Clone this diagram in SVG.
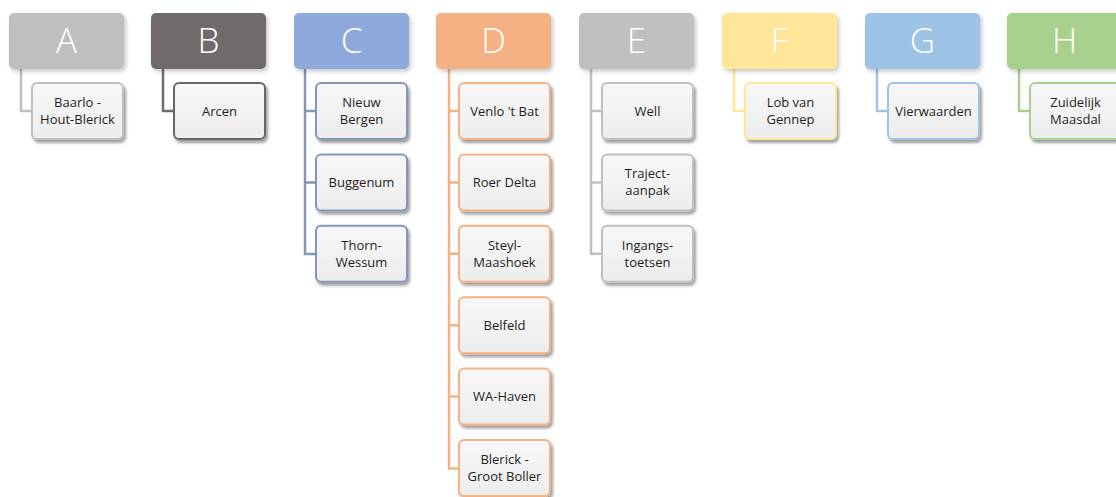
<svg xmlns="http://www.w3.org/2000/svg" width="1116" height="497" viewBox="0 0 1116 497">
<defs>
<filter id="sh" x="-20%" y="-20%" width="140%" height="150%">
<feDropShadow dx="2" dy="3" stdDeviation="1.6" flood-color="#000" flood-opacity="0.38"/>
</filter>
<filter id="hsh" x="-20%" y="-20%" width="140%" height="150%">
<feDropShadow dx="2" dy="2.5" stdDeviation="2" flood-color="#000" flood-opacity="0.22"/>
</filter>
<linearGradient id="cg" x1="0" y1="0" x2="0" y2="1">
<stop offset="0" stop-color="#f7f7f7"/>
<stop offset="1" stop-color="#ededed"/>
</linearGradient>
</defs>
<style>
.hd{filter:url(#hsh)}
.ch{fill:url(#cg);stroke-width:2;filter:url(#sh)}
.hl{font-family:"Open Sans","Liberation Sans",sans-serif;font-weight:300;font-size:35px;fill:#fff;text-anchor:middle}
.cl{font-family:"Open Sans","Liberation Sans",sans-serif;font-size:13px;fill:#1e1e1e;text-anchor:middle}
.cn{fill:none;stroke-width:2.5}
</style>
<rect width="1116" height="497" fill="#fff"/>
<g id="connectors">
<path class="cn" stroke="#bfbfbf" d="M21 69V111H32"/>
<path class="cn" stroke="#716b6a" d="M163 69V111H174"/>
<path class="cn" stroke="#8497b8" d="M305 69V254H316M305 111H316M305 182.4H316"/>
<path class="cn" stroke="#f4b183" d="M449 69V468.5H459M449 111H459M449 182.4H459M449 253.8H459M449 325.2H459M449 396.6H459"/>
<path class="cn" stroke="#c0c0c0" d="M591 69V253.8H602M591 111H602M591 182.4H602"/>
<path class="cn" stroke="#ffe699" d="M734 69V111H745"/>
<path class="cn" stroke="#9dc3e6" d="M877 69V111H888"/>
<path class="cn" stroke="#a9d18e" d="M1019 69V111H1030"/>
</g>
<g id="A"><rect class="hd" x="9" y="13" width="115" height="56" rx="5" fill="#bfbfbf"/><text class="hl" x="66.5" y="53">A</text></g>
<g id="B"><rect class="hd" x="151" y="13" width="115" height="56" rx="5" fill="#716b6a"/><text class="hl" x="208.5" y="53">B</text></g>
<g id="C"><rect class="hd" x="294" y="13" width="115" height="56" rx="5" fill="#8ea9db"/><text class="hl" x="351.5" y="53">C</text></g>
<g id="D"><rect class="hd" x="436" y="13" width="115" height="56" rx="5" fill="#f4b183"/><text class="hl" x="493.5" y="53">D</text></g>
<g id="E"><rect class="hd" x="579" y="13" width="115" height="56" rx="5" fill="#c0c0c0"/><text class="hl" x="636.5" y="53">E</text></g>
<g id="F"><rect class="hd" x="722" y="13" width="115" height="56" rx="5" fill="#ffe699"/><text class="hl" x="779.5" y="53">F</text></g>
<g id="G"><rect class="hd" x="865" y="13" width="115" height="56" rx="5" fill="#9dc3e6"/><text class="hl" x="922.5" y="53">G</text></g>
<g id="H"><rect class="hd" x="1007" y="13" width="115" height="56" rx="5" fill="#a9d18e"/><text class="hl" x="1064.5" y="53">H</text></g>

<g id="A1"><rect class="ch" x="32" y="83" width="91" height="56" rx="5" stroke="#bfbfbf"/><text class="cl" x="77.5" y="107">Baarlo -</text><text class="cl" x="77.5" y="124">Hout-Blerick</text></g>
<g id="B1"><rect class="ch" x="174" y="83" width="91" height="56" rx="5" stroke="#6b6566"/><text class="cl" x="219.5" y="115.5">Arcen</text></g>
<g id="C1"><rect class="ch" x="316" y="83" width="91" height="56" rx="5" stroke="#8497b8"/><text class="cl" x="361.5" y="107">Nieuw</text><text class="cl" x="361.5" y="124">Bergen</text></g>
<g id="C2"><rect class="ch" x="316" y="154.4" width="91" height="56" rx="5" stroke="#8497b8"/><text class="cl" x="361.5" y="186.9">Buggenum</text></g>
<g id="C3"><rect class="ch" x="316" y="225.8" width="91" height="56" rx="5" stroke="#8497b8"/><text class="cl" x="361.5" y="249.8">Thorn-</text><text class="cl" x="361.5" y="266.8">Wessum</text></g>
<g id="D1"><rect class="ch" x="459" y="83" width="91" height="56" rx="5" stroke="#f4b183"/><text class="cl" x="504.5" y="115.5">Venlo 't Bat</text></g>
<g id="D2"><rect class="ch" x="459" y="154.4" width="91" height="56" rx="5" stroke="#f4b183"/><text class="cl" x="504.5" y="186.9">Roer Delta</text></g>
<g id="D3"><rect class="ch" x="459" y="225.8" width="91" height="56" rx="5" stroke="#f4b183"/><text class="cl" x="504.5" y="249.8">Steyl-</text><text class="cl" x="504.5" y="266.8">Maashoek</text></g>
<g id="D4"><rect class="ch" x="459" y="297.2" width="91" height="56" rx="5" stroke="#f4b183"/><text class="cl" x="504.5" y="329.7">Belfeld</text></g>
<g id="D5"><rect class="ch" x="459" y="368.6" width="91" height="56" rx="5" stroke="#f4b183"/><text class="cl" x="504.5" y="401.1">WA-Haven</text></g>
<g id="D6"><rect class="ch" x="459" y="440" width="91" height="56" rx="5" stroke="#f4b183"/><text class="cl" x="504.5" y="464">Blerick -</text><text class="cl" x="504.5" y="481">Groot Boller</text></g>
<g id="E1"><rect class="ch" x="602" y="83" width="91" height="56" rx="5" stroke="#c0c0c0"/><text class="cl" x="647.5" y="115.5">Well</text></g>
<g id="E2"><rect class="ch" x="602" y="154.4" width="91" height="56" rx="5" stroke="#c0c0c0"/><text class="cl" x="647.5" y="178.4">Traject-</text><text class="cl" x="647.5" y="195.4">aanpak</text></g>
<g id="E3"><rect class="ch" x="602" y="225.8" width="91" height="56" rx="5" stroke="#c0c0c0"/><text class="cl" x="647.5" y="249.8">Ingangs-</text><text class="cl" x="647.5" y="266.8">toetsen</text></g>
<g id="F1"><rect class="ch" x="745" y="83" width="91" height="56" rx="5" stroke="#ffe699"/><text class="cl" x="790.5" y="107">Lob van</text><text class="cl" x="790.5" y="124">Gennep</text></g>
<g id="G1"><rect class="ch" x="888" y="83" width="91" height="56" rx="5" stroke="#9dc3e6"/><text class="cl" x="933.5" y="115.5">Vierwaarden</text></g>
<g id="H1"><rect class="ch" x="1030" y="83" width="91" height="56" rx="5" stroke="#a9d18e"/><text class="cl" x="1075.5" y="107">Zuidelijk</text><text class="cl" x="1075.5" y="124">Maasdal</text></g>
</svg>
